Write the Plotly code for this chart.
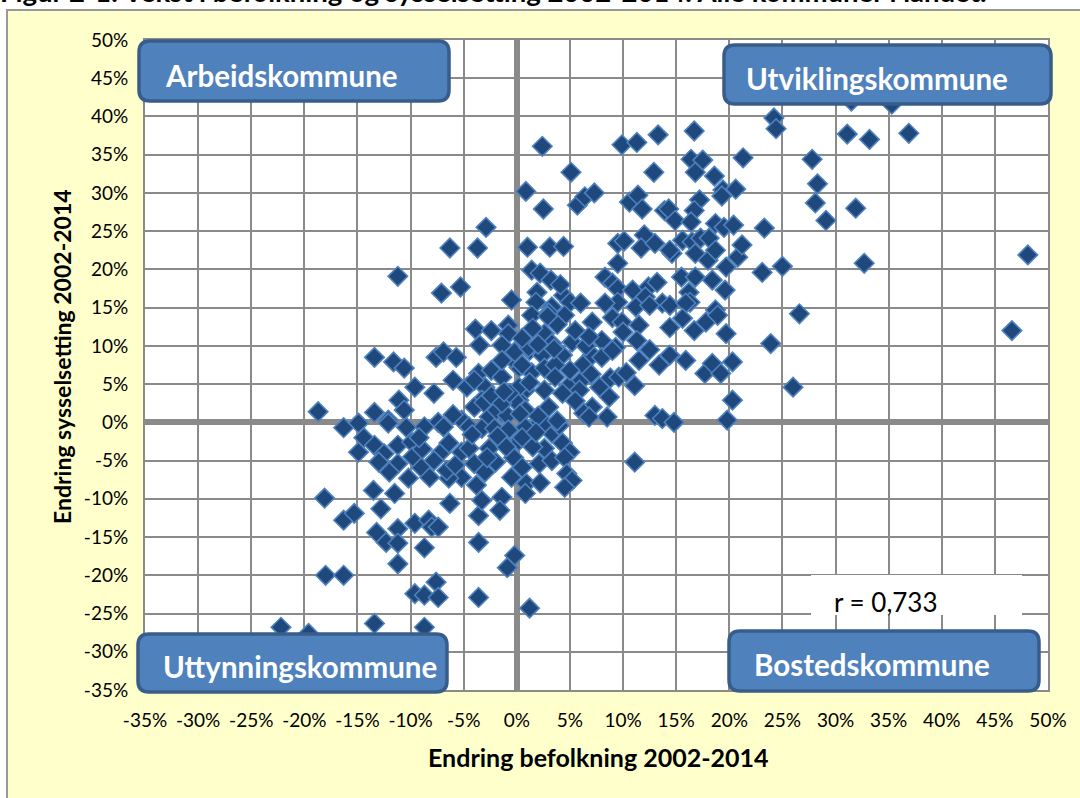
import plotly.graph_objects as go

# Data: (befolkning %, sysselsetting %)
pop_change = [
    24.2, 24.4, 31.1, 33.2, 36.9, 27.8, 28.3, 28.1, 29.1, 31.9, 25.0, 32.7, 48.1, 26.6, 46.6, 26.0, 31.5, 35.3, 23.9,
    2.4, 9.9, 11.3, 13.3, 16.7, 5.1, 12.9, 16.4, 17.5, 16.8, 21.3, 0.85, 2.5, 5.7, 6.4, 7.3,
    10.6, 11.4, 11.8, 13.9, 14.3, 14.9, 17.2, 16.7, 16.4, 18.6, 19.4, 19.3, 20.6, 18.7, 19.5, 20.4, 23.3,
    1.0, 3.1, 4.4, 9.5, 10.1, 12.0, 11.7, 13.0, 14.6, 14.4, 15.6, 16.5, 17.3, 18.1,
    16.8, 18.0, 18.7, 19.7, 20.8, 21.2, 23.1, 1.4, 2.2, 3.2, 1.9, 1.8, 4.4, 5.0, 6.0,
    9.5, 8.3, 9.0, 9.5, 9.5, 10.9, 12.4, 13.2, 12.1, 15.5, 16.8, 18.4, 19.6, 16.2, 16.3,
    -0.5, 3.3, 11.2, 13.7, 18.7,
    3.0, 8.3, 12.5, 14.4, 15.9, 1.4, 4.5, 7.1, 9.0, 9.9, 11.5, 14.4, 15.6, 16.7, 17.8, 18.9, 19.7,
    2.6, 3.3, 5.2, 0.0, 1.2, 2.4, 4.3, 0.2, 1.4, 2.6, 3.6, -0.5,
    8.0, 9.3, 11.3, 7.1, 8.0, 9.0, 11.5, 13.4, 14.4, 15.9, 17.7, 18.4, 19.2, 20.3, 11.1, 20.3,
    3.6, 4.9, 6.1, 5.9, 7.8, 8.8, 9.6, 8.7, 7.1, 8.5, 6.3, 6.8, 4.3, 2.6, 0.8, -0.5, 0.2, 0.8, 3.0,
    13.0, 13.7, 14.8, 19.8,
    1.7, 3.3, 4.0, 0.2, 2.6, 4.3, 5.0, -0.3, 2.1, 3.3, 4.5, 0.5, 4.7, 5.2, 0.9, 2.2, 4.5, 0.8, 11.1,
    -2.9, -6.3, -3.7, -11.2, -7.1, -5.3, -3.9, -2.4, -0.8, -0.8, -3.5, -1.4, -0.2, 1.1,
    -13.4, -11.6, -10.6, -7.6, -6.9, -5.7, -9.6, -7.8,
    -6.0, -4.7, -3.6, -2.4, -1.4, -3.0, -3.3, -2.1, -0.8, 0.2,
    -18.7, -13.4, -12.1, -11.1, -10.6, -16.3, -14.9, -7.4, -5.2, -4.0, -2.6, -1.4, -0.2,
    -8.7, -6.9, -4.5, -3.3,
    -1.4, 0.5, -1.9, -0.9, -3.1, -2.4, -1.4, -0.7, -4.0,
    -12.1, -10.4, -2.1, -0.8, 0.8, 2.6,
    -14.9, -14.4, -13.4, -12.5, -11.2, -9.9, -11.2, -10.2, -9.0, -8.2, -7.1, -6.4, -5.2, -4.5, -4.0, -5.2, -6.4,
    -2.6, -1.4, -0.5,
    -13.5, -12.8, -11.5, -18.1, -16.3, -15.3, -13.2, -12.3, -11.2, -11.2, -9.6, -8.3, -8.0, -7.4, -8.7, -11.2,
    -6.3, -3.6, -3.3, -1.4, -1.6, -3.6, -0.2, -0.9,
    -18.0, -16.3, -9.6, -8.7, -7.6, -7.4, -3.6, 1.2,
    -22.2, -19.6, -13.4, -8.7,
    -13.0, -12.0, -9.8,
    -6.6, -7.8, -5.8, -8.9, -3.0, -2.0, -1.0, -1.8, 0.5, 1.5,
    1.5, 0.5, 2.0, 3.8, 5.5, 6.5, 6.2, 5.0, 7.0, 10.3, 12.5, 10.0, 1.2, 2.0, 3.8, 5.5,
    -4.2, -2.8, -1.2, 0.3, 1.8, 3.5, -6.0, -9.2, -3.8, 2.9, 4.1, 6.8,
]
emp_change = [
    39.8, 38.4, 37.7, 37.0, 37.8, 34.4, 31.2, 28.7, 26.4, 28.0, 20.4, 20.8, 21.9, 14.2, 12.0, 4.6, 42.0, 41.6, 10.3,
    36.1, 36.3, 36.6, 37.6, 38.1, 32.7, 32.7, 34.4, 34.3, 32.7, 34.6, 30.2, 27.9, 28.4, 29.5, 30.0,
    28.8, 29.7, 27.9, 27.7, 27.9, 26.4, 29.1, 27.7, 26.2, 32.2, 30.4, 29.6, 30.5, 26.0, 25.5, 25.8, 25.4,
    22.9, 22.9, 23.0, 23.4, 23.7, 24.5, 22.8, 23.4, 22.1, 22.5, 23.8, 23.6, 24.1, 24.1,
    22.1, 21.2, 22.5, 20.3, 21.6, 23.2, 19.6, 19.9, 19.5, 18.6, 17.0, 15.7, 16.6, 15.7, 15.6,
    20.8, 19.0, 18.2, 17.5, 15.7, 17.3, 17.7, 18.3, 16.4, 19.0, 19.0, 18.6, 17.3, 17.0, 15.7,
    16.0, 15.1, 15.1, 15.6, 14.7,
    14.3, 15.6, 15.3, 15.3, 15.6, 14.0, 14.0, 13.1, 13.7, 13.1, 12.7, 12.4, 13.6, 12.0, 13.1, 14.0, 11.6,
    11.6, 10.3, 10.5, 9.4, 9.4, 8.8, 8.8, 7.2, 6.5, 7.1, 7.5, 8.4,
    10.7, 9.8, 10.7, 8.8, 8.5, 9.4, 8.1, 7.5, 8.8, 8.1, 6.4, 7.7, 6.4, 7.9, 4.8, 2.9,
    5.9, 4.8, 5.5, 4.2, 4.6, 5.8, 5.9, 3.3, 2.0, 0.7, 1.2, 0.7, 3.8, 4.2, 4.2, 3.5, 2.9, 1.6, 2.0,
    0.9, 0.5, 0.0, 0.3,
    -0.65, -1.4, -0.4, -2.4, -3.4, -2.7, -3.9, -4.6, -5.4, -5.0, -4.6, -5.9, -6.7, -7.6, -8.0, -7.9, -8.5, -9.3, -5.2,
    25.5, 22.8, 22.8, 19.1, 16.9, 17.7, 12.2, 12.0, 12.7, 11.6, 10.1, 10.1, 9.2, 9.8,
    8.5, 7.9, 7.1, 8.5, 9.2, 8.5, 4.6, 3.8,
    5.5, 4.6, 6.4, 6.8, 5.9, 4.6, 2.9, 2.9, 3.3, 4.6,
    1.4, 1.3, 0.3, 2.9, 1.6, -0.7, -0.1, 0.0, 0.3, 2.0, 0.7, 1.2, 2.9,
    -0.6, -0.6, -0.6, -0.8,
    8.1, 7.5, 1.6, 0.9, 2.6, 3.5, 2.5, 3.8, 5.5,
    -0.1, -0.65, -0.8, -1.0, -0.65, -0.1,
    -3.9, -2.0, -3.0, -4.1, -3.0, -2.6, -5.4, -7.3, -5.9, -7.2, -3.9, -2.7, -3.9, -3.4, -5.4, -7.2, -7.3,
    -3.4, -2.4, -7.2,
    -8.9, -11.3, -9.3, -9.9, -12.8, -11.9, -14.4, -15.7, -13.9, -15.8, -13.2, -12.8, -13.7, -13.7, -16.4, -18.5,
    -10.6, -12.2, -10.2, -9.8, -11.5, -15.7, -17.4, -19.0,
    -20.0, -20.0, -22.4, -22.6, -20.9, -22.9, -22.9, -24.3,
    -26.8, -27.6, -26.3, -26.8,
    -5.2, -6.5, -4.5,
    -6.3, -5.0, -5.6, -3.5, -6.5, -5.2, -3.2, -1.8, -2.0, -3.2,
    12.3, 11.0, 10.2, 12.8, 12.0, 10.0, 7.5, 6.8, 6.3, 6.5, 9.5, 11.8, 5.2, 0.8, 0.2, 2.8,
    -1.6, -4.6, 4.0, 1.1, -1.3, 9.6, 1.0, -2.0, -8.2, 13.9, 18.0, 11.2,
]

axis_ticks = list(range(-35, 51, 5))
tick_labels = [f"{t}%" for t in axis_ticks]

title_text = "Figur 2-1: Vekst i befolkning og sysselsetting 2002-2014. Alle kommuner i landet."
x_title = "Endring befolkning 2002-2014"
y_title = "Endring sysselsetting 2002-2014"
box_labels = ["Arbeidskommune", "Utviklingskommune", "Uttynningskommune", "Bostedskommune"]
r_label = "r = 0,733"

FONT = "Lato, 'Open Sans', sans-serif"
W, H = 1080, 798
ML, MR, MT, MB = 145, 32, 40, 108
PW, PH = W - ML - MR, H - MT - MB


def px(x, y):
    return ((x - ML) / PW, (H - MB - y) / PH)


def rounded_path(x0, y0, x1, y1, r=11):
    def p(x, y):
        a, b = px(x, y)
        return f"{a:.5f},{b:.5f}"
    return (
        f"M {p(x0 + r, y0)} L {p(x1 - r, y0)} Q {p(x1, y0)} {p(x1, y0 + r)} "
        f"L {p(x1, y1 - r)} Q {p(x1, y1)} {p(x1 - r, y1)} "
        f"L {p(x0 + r, y1)} Q {p(x0, y1)} {p(x0, y1 - r)} "
        f"L {p(x0, y0 + r)} Q {p(x0, y0)} {p(x0 + r, y0)} Z"
    )


fig = go.Figure()
fig.add_trace(go.Scatter(
    x=pop_change, y=emp_change, mode="markers",
    marker=dict(symbol="diamond", size=15, color="#1F497D",
                line=dict(color="#4F81BD", width=1.6)),
    hoverinfo="skip", showlegend=False,
))

shapes = []
a0, b0 = px(7, 10)
a1, b1 = px(1095, 810)
shapes.append(dict(type="rect", xref="paper", yref="paper", x0=a0, y0=b1, x1=a1, y1=b0,
                   fillcolor="#FFFFCC", line=dict(color="#9a9a9a", width=2), layer="below"))
shapes.append(dict(type="rect", xref="paper", yref="paper", x0=0, y0=0, x1=1, y1=1,
                   fillcolor="white", line=dict(width=0), layer="below"))

boxes = [
    (139, 41, 449, 101),
    (724, 45, 1051, 104),
    (138, 634, 447, 692),
    (729, 631, 1039, 691),
]
for (x0, y0, x1, y1) in boxes:
    shapes.append(dict(type="path", xref="paper", yref="paper", path=rounded_path(x0, y0, x1, y1),
                       fillcolor="#4F81BD", line=dict(color="#385D8A", width=3.5), layer="above"))

c0, d0 = px(811, 575)
c1, d1 = px(1022, 615)
shapes.append(dict(type="rect", xref="paper", yref="paper", x0=c0, y0=d1, x1=c1, y1=d0,
                   fillcolor="white", line=dict(width=0), layer="above"))

annotations = []
label_pos = [(163, 76), (744, 78), (161, 666), (752, 664)]
for lab, (lx, ly) in zip(box_labels, label_pos):
    ax_, ay_ = px(lx, ly)
    annotations.append(dict(text=f"<b>{lab}</b>", x=ax_, y=ay_, xref="paper", yref="paper",
                            xanchor="left", yanchor="middle", showarrow=False,
                            font=dict(family=FONT, size=29.5, color="white")))
ax_, ay_ = px(832, 602)
annotations.append(dict(text=r_label, x=ax_, y=ay_, xref="paper", yref="paper",
                        xanchor="left", yanchor="middle", showarrow=False,
                        font=dict(family=FONT, size=26, color="black")))
ax_, ay_ = px(598, 757)
annotations.append(dict(text=f"<b>{x_title}</b>", x=ax_, y=ay_, xref="paper", yref="paper",
                        xanchor="center", yanchor="middle", showarrow=False,
                        font=dict(family=FONT, size=25, color="black")))
ax_, ay_ = px(62, 357)
annotations.append(dict(text=f"<b>{y_title}</b>", x=ax_, y=ay_, xref="paper", yref="paper",
                        xanchor="center", yanchor="middle", showarrow=False, textangle=-90,
                        font=dict(family=FONT, size=23, color="black")))
ax_, ay_ = px(-2, 10)
annotations.append(dict(text=f"<b>{title_text}</b>", x=ax_, y=ay_, xref="paper", yref="paper",
                        xanchor="left", yanchor="bottom", showarrow=False,
                        font=dict(family=FONT, size=27.5, color="black")))

axis_common = dict(
    range=[-35, 50], tickvals=axis_ticks, ticktext=tick_labels,
    showgrid=True, gridcolor="#8a8a8a", gridwidth=2,
    zeroline=True, zerolinecolor="#8a8a8a", zerolinewidth=6,
    showline=True, linecolor="#8a8a8a", linewidth=2, mirror=True,
    ticks="", tickfont=dict(family=FONT, size=19, color="black"),
    fixedrange=True,
)
fig.update_xaxes(**axis_common, ticklabelstandoff=12)
fig.update_yaxes(**axis_common, ticklabelstandoff=11)

fig.update_layout(
    width=W, height=H,
    margin=dict(l=ML, r=MR, t=MT, b=MB, autoexpand=False),
    paper_bgcolor="white", plot_bgcolor="white",
    shapes=shapes, annotations=annotations,
    font=dict(family=FONT),
)

fig.write_html(
    "out.html",
    config={"displayModeBar": False, "staticPlot": True},
    post_script="document.body.style.margin='0';document.body.style.overflow='hidden';",
)
